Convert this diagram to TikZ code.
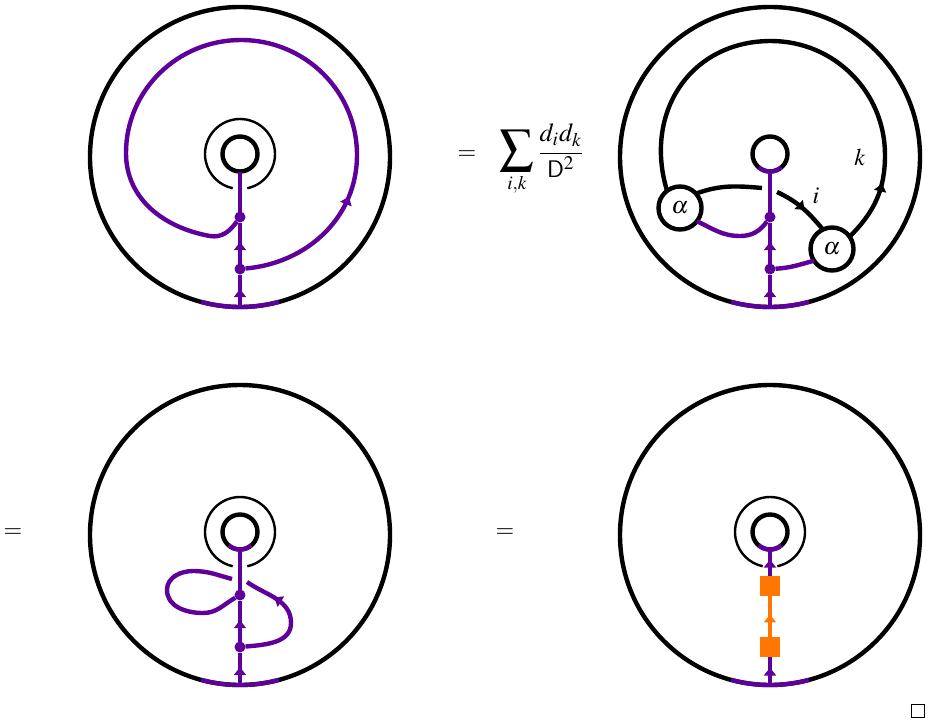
\documentclass[tikz,border=0pt]{standalone}
\usepackage[slantedGreek]{mathptmx}
\usetikzlibrary{arrows.meta,decorations.markings}
\definecolor{wirepurple}{HTML}{5E0099}
\definecolor{wireorange}{HTML}{FF7700}
\tikzset{
  outerdisc/.style={draw, circle, line width=2.2pt, minimum size=150pt, inner sep=0pt, outer sep=0pt},
  innerdisc/.style={draw, circle, line width=2.2pt, minimum size=17.5pt, inner sep=0pt, outer sep=0pt},
  coupon/.style={draw, circle, fill=white, line width=2.2pt, minimum size=21.5pt, inner sep=0pt, outer sep=0pt},
  joint/.style={circle, fill=wirepurple, minimum size=5.5pt, inner sep=0pt, outer sep=0pt},
  morph/.style={rectangle, fill=wireorange, minimum size=10pt, inner sep=0pt, outer sep=0pt},
  thinring/.style={line width=1.2pt},
  purplewire/.style={line width=2.2pt, color=wirepurple},
  blackwire/.style={line width=2.2pt},
  orangewire/.style={line width=2.2pt, color=wireorange},
  midtip/.style={postaction={decorate}, decoration={markings, mark=at position #1 with {\arrow{Triangle[length=4pt,width=6pt]}}}}
}
\begin{document}
\begin{tikzpicture}[x=0.5pt, y=0.5pt, every node/.append style={font=\large}]
    \useasboundingbox (0,0) rectangle (930,-723);

    % Discs
    \node[outerdisc] (outerA) at (240,-157) {};
    \node[outerdisc] (outerB) [right of=outerA, node distance=265pt] {};
    \node[outerdisc] (outerC) [below of=outerA, node distance=189pt] {};
    \node[outerdisc] (outerD) [right of=outerC, node distance=265pt] {};

    \node[innerdisc] (innerA) [above of=outerA, node distance=1.5pt] {};
    \node[innerdisc] (innerB) [above of=outerB, node distance=1.5pt] {};
    \node[innerdisc] (innerC) [above of=outerC, node distance=1.5pt] {};
    \node[innerdisc] (innerD) [above of=outerD, node distance=1.5pt] {};

    % Thin rings
    \draw[thinring] (innerA) ++(-78:35) arc[start angle=-78, end angle=258, radius=35];
    \draw[thinring] (innerC) ++(-78:35) arc[start angle=-78, end angle=258, radius=35];
    \draw[thinring] (innerD) ++(-78:35) arc[start angle=-78, end angle=258, radius=35];

    % Boundary arcs
    \draw[purplewire] (outerA.255) arc[start angle=255, end angle=285, radius=150];
    \draw[purplewire] (outerB.255) arc[start angle=255, end angle=285, radius=150];
    \draw[purplewire] (outerC.255) arc[start angle=255, end angle=285, radius=150];
    \draw[purplewire] (outerD.255) arc[start angle=255, end angle=285, radius=150];
    \draw[purplewire] (innerB.230) arc[start angle=230, end angle=310, radius=17.5];
    \draw[purplewire] (innerC.230) arc[start angle=230, end angle=310, radius=17.5];
    \draw[purplewire] (innerD.230) arc[start angle=230, end angle=310, radius=17.5];

    % Joints and boxes
    \node[joint] (upperA) [below of=innerA, node distance=31.5pt] {};
    \node[joint] (lowerA) [below of=innerA, node distance=57.5pt] {};
    \node[joint] (upperB) [below of=innerB, node distance=31.5pt] {};
    \node[joint] (lowerB) [below of=innerB, node distance=57.5pt] {};
    \node[joint] (upperC) [below of=innerC, node distance=31.5pt] {};
    \node[joint] (lowerC) [below of=innerC, node distance=57.5pt] {};
    \node[morph] (upperD) [below of=innerD, node distance=27pt] {};
    \node[morph] (lowerD) [below of=innerD, node distance=57.5pt] {};

    \node[coupon] (alphaL) at (680,-208) {$\alpha$};
    \node[coupon] (alphaR) at (832,-249) {$\alpha$};

    % Bend points
    \coordinate (rightA) at (357,-155);
    \coordinate (topA) at (241,-40);
    \coordinate (leftA) at (126,-153);
    \coordinate (lowA) at (210,-236);

    \coordinate (topB) at (771,-41);
    \coordinate (rightB) at (885,-155);
    \coordinate (gapL) at (762,-188);
    \coordinate (gapR) at (777,-192);
    \coordinate (lowB) at (740,-236);

    \coordinate (gapC1) at (232,-579);
    \coordinate (gapC2) at (247,-582);
    \coordinate (topC) at (193,-571);
    \coordinate (leftC) at (167,-590);
    \coordinate (lowC) at (203,-613);
    \coordinate (rightC) at (291,-623);

    % Upper left wires
    \draw[purplewire, midtip=0.55] (outerA.south) -- (lowerA);
    \draw[purplewire, midtip=0.52] (lowerA) -- (upperA);
    \draw[purplewire] (upperA) -- (innerA.south);
    \draw[purplewire, midtip=0.19] (lowerA) to[out=5, in=-90] (rightA) to[out=90, in=0] (topA)
        to[out=180, in=90] (leftA) to[out=-90, in=170] (lowA) to[out=-10, in=-125] (upperA);

    % Upper right wires
    \draw[blackwire, midtip=0.13] (alphaR.35) to[out=45, in=-90] (rightB) to[out=90, in=0] (topB)
        to[out=180, in=107, looseness=1.14] (alphaL.127);
    \draw[blackwire] (alphaL.42) to[out=20, in=175] (gapL);
    \draw[blackwire, midtip=0.55] (gapR) to[out=-25, in=130] (alphaR.115);
    \draw[purplewire, midtip=0.55] (outerB.south) -- (lowerB);
    \draw[purplewire, midtip=0.52] (lowerB) -- (upperB);
    \draw[purplewire] (upperB) -- (innerB.south);
    \draw[purplewire] (alphaL.-38) to[out=-25, in=180] (lowB) to[out=0, in=-125] (upperB);
    \draw[purplewire] (lowerB) to[out=3, in=195] (alphaR.213);

    % Lower left wires
    \draw[purplewire, midtip=0.55] (outerC.south) -- (lowerC);
    \draw[purplewire, midtip=0.52] (lowerC) -- (upperC);
    \draw[purplewire] (upperC) -- (innerC.south);
    \draw[purplewire] (gapC1) to[out=165, in=0] (topC) to[out=180, in=90] (leftC)
        to[out=-90, in=180] (lowC) to[out=0, in=-150] (upperC);
    \draw[purplewire, midtip=0.74] (lowerC) to[out=5, in=-90] (rightC) to[out=90, in=-35] (gapC2);

    % Lower right wires
    \draw[purplewire, midtip=0.62] (outerD.south) -- (lowerD);
    \draw[orangewire, midtip=0.55] (lowerD) -- (upperD);
    \draw[purplewire, midtip=0.62] (upperD) -- (innerD.south);

    % Labels
    \node (eqA) at (467,-155) {$=$};
    \node (eqB) at (13,-533) {$=$};
    \node (eqC) at (505,-533) {$=$};
    \node[font=\fontsize{13}{15}\selectfont] (sumA) at (542,-160) {$\displaystyle\mathop{\scalebox{1.3}{$\displaystyle\sum$}}_{i,k}\frac{d_i d_k}{\mathsf{D}^2}$};
    \node (labelI) at (816,-196) {$i$};
    \node (labelK) at (860,-157) {$k$};
    \node[draw, rectangle, line width=0.8pt, minimum size=6.5pt, inner sep=0pt] (qed) at (918,-711) {};

\end{tikzpicture}
\end{document}
